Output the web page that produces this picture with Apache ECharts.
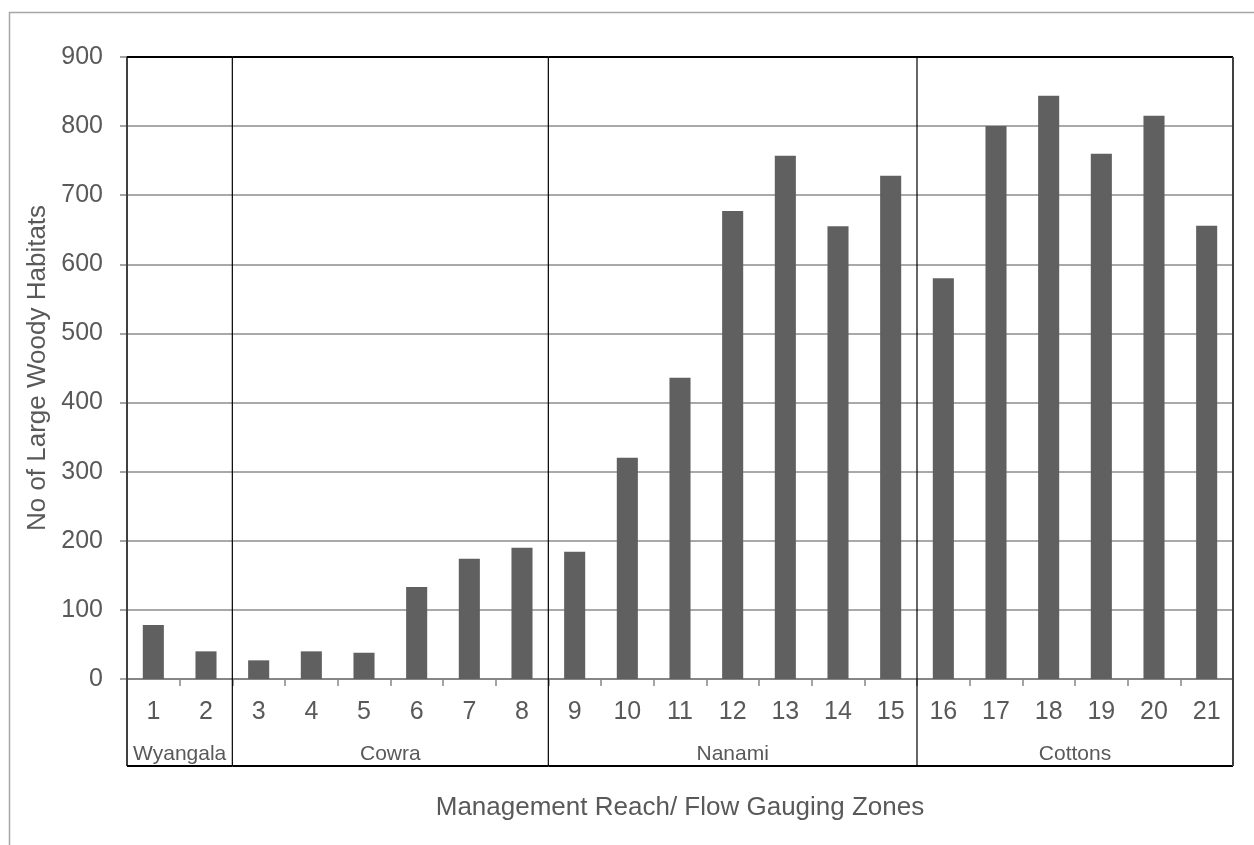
<!DOCTYPE html>
<html>
<head>
<meta charset="utf-8">
<script src="https://cdn.jsdelivr.net/npm/echarts@6/dist/echarts.min.js"></script>
<style>
html,body{margin:0;padding:0;background:#fff;}
#chart{width:1254px;height:845px;}
</style>
</head>
<body>
<div id="chart"></div>
<script>
const categories = ['1','2','3','4','5','6','7','8','9','10','11','12','13','14','15','16','17','18','19','20','21'];
const habitats = [78, 40, 27, 40, 38, 133, 174, 190, 184, 320, 436, 677, 757, 655, 728, 580, 800, 844, 760, 815, 656];
const groupNames = ['Wyangala', 'Cowra', 'Nanami', 'Cottons'];
const groupSizes = [2, 6, 7, 6];
const yTicks = [0, 100, 200, 300, 400, 500, 600, 700, 800, 900];

const groupData = [];
let start = 0;
groupNames.forEach((name, i) => {
  groupData.push([start, start + groupSizes[i], name]);
  start += groupSizes[i];
});
const total = categories.length;
const yMax = yTicks[yTicks.length - 1];

const FONT = '"Liberation Sans", Arial, sans-serif';
const TXT = '#595959';

const chart = echarts.init(document.getElementById('chart'));
chart.setOption({
  animation: false,
  backgroundColor: '#fff',
  graphic: [{
    type: 'rect', left: 7, top: 10, z: -10,
    shape: { width: 1400, height: 1000 },
    style: { fill: 'none', stroke: '#a6a6a6', lineWidth: 1.5 }
  }],
  grid: { left: 127, top: 57, right: 21, bottom: 166, containLabel: false },
  xAxis: [{
    type: 'category',
    data: categories,
    axisLine: { lineStyle: { color: '#868686', width: 2 } },
    axisTick: { show: true, interval: 0, length: 7, lineStyle: { color: '#868686', width: 1.5 } },
    axisLabel: { interval: 0, color: TXT, fontSize: 25, fontFamily: FONT, margin: 21 },
    name: 'Management Reach/ Flow Gauging Zones',
    nameLocation: 'middle',
    nameGap: 116,
    nameTextStyle: { color: TXT, fontSize: 26, fontFamily: FONT }
  }, {
    type: 'value', min: 0, max: total, show: false
  }],
  yAxis: [{
    type: 'value',
    min: 0, max: yMax, interval: 100,
    axisLine: { show: true, lineStyle: { color: '#404040', width: 2 } },
    axisTick: { show: true, length: 7, lineStyle: { color: '#868686', width: 1.5 } },
    axisLabel: { color: TXT, fontSize: 25, fontFamily: FONT, margin: 24 },
    splitLine: { show: true, lineStyle: { color: '#8c8c8c', width: 1.6 } },
    name: 'No of Large Woody Habitats',
    nameLocation: 'middle',
    nameGap: 76,
    nameTextStyle: { color: TXT, fontSize: 26, fontFamily: FONT }
  }],
  series: [{
    type: 'bar',
    data: habitats,
    barWidth: '40%',
    itemStyle: { color: '#606060' },
    z: 2
  }, {
    type: 'custom',
    xAxisIndex: 1,
    yAxisIndex: 0,
    clip: false,
    z: 5,
    data: groupData,
    encode: { x: [0, 1] },
    renderItem: function (params, api) {
      const s = api.value(0), e = api.value(1), name = groupNames[params.dataIndex];
      const topL = api.coord([s, yMax]);
      const botL = api.coord([s, 0]);
      const botR = api.coord([e, 0]);
      const boxBottom = botL[1] + 87;
      const children = [
        { type: 'line', shape: { x1: topL[0], y1: topL[1], x2: topL[0], y2: boxBottom },
          style: { stroke: s === 0 ? '#404040' : '#000', lineWidth: s === 0 ? 2 : 1.2 } },
        { type: 'line', shape: { x1: topL[0], y1: topL[1], x2: botR[0], y2: topL[1] },
          style: { stroke: '#000', lineWidth: 2 } },
        { type: 'line', shape: { x1: botL[0], y1: boxBottom, x2: botR[0], y2: boxBottom },
          style: { stroke: '#000', lineWidth: 2 } },
        { type: 'text', style: { x: (botL[0] + botR[0]) / 2, y: botL[1] + 75, text: name,
          fill: TXT, font: '21px ' + FONT, align: 'center', verticalAlign: 'middle' } }
      ];
      if (e === total) {
        children.push({ type: 'line', shape: { x1: botR[0], y1: topL[1], x2: botR[0], y2: boxBottom },
          style: { stroke: '#404040', lineWidth: 2 } });
      }
      return { type: 'group', children: children };
    }
  }]
});
</script>
</body>
</html>
